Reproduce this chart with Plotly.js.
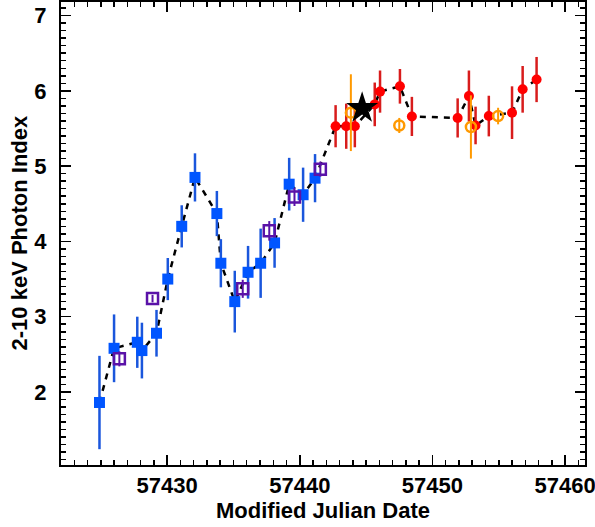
<!DOCTYPE html>
<html>
<head>
<meta charset="utf-8">
<script src="https://cdn.plot.ly/plotly-3.0.1.min.js"></script>
<style>html,body{margin:0;padding:0;background:#fff;}#chart{width:595px;height:527px;}</style>
</head>
<body>
<div id="chart"></div>
<script>
// Blue filled squares
const blueX = [57424.9, 57426.0, 57427.75, 57428.1, 57429.2, 57430.05, 57431.1, 57432.1, 57433.75, 57434.05, 57435.1, 57436.1, 57437.05, 57438.1, 57439.2, 57440.25, 57441.15];
const blueY = [1.86, 2.58, 2.66, 2.55, 2.78, 3.50, 4.20, 4.85, 4.37, 3.71, 3.20, 3.59, 3.71, 3.98, 4.76, 4.62, 4.84];
const blueErr = [0.62, 0.45, 0.34, 0.37, 0.31, 0.28, 0.28, 0.32, 0.30, 0.32, 0.41, 0.35, 0.46, 0.33, 0.35, 0.36, 0.32];

// Purple open squares
const purpleX = [57426.4, 57428.9, 57435.7, 57437.7, 57439.6, 57441.55];
const purpleY = [2.44, 3.24, 3.37, 4.14, 4.59, 4.96];
const purpleErr = [0.10, 0.05, 0.12, 0.13, 0.12, 0.10];

// Red filled circles
const redX = [57442.7, 57443.5, 57444.15, 57445.65, 57446.05, 57447.55, 57448.45, 57451.9, 57452.75, 57453.25, 57454.25, 57456.0, 57456.8, 57457.85];
const redY = [5.53, 5.53, 5.53, 5.82, 5.99, 6.06, 5.66, 5.64, 5.93, 5.54, 5.665, 5.71, 6.02, 6.15];
const redErr = [0.28, 0.30, 0.28, 0.29, 0.28, 0.23, 0.26, 0.26, 0.34, 0.25, 0.27, 0.35, 0.31, 0.30];

// Orange open circles
const orangeX = [57443.85, 57447.5, 57452.9, 57454.95];
const orangeY = [5.71, 5.54, 5.52, 5.665];
const orangeErr = [0.51, 0.10, 0.42, 0.11];

// Black star
const starX = [57444.7];
const starY = [5.77];

// Axis titles
const xTitle = 'Modified Julian Date';
const yTitle = '2-10 keV Photon Index';

// Dashed line through blue + red points, in time order
const linePts = blueX.map((x, i) => [x, blueY[i]]).concat(redX.map((x, i) => [x, redY[i]])).sort((a, b) => a[0] - b[0]);

const traces = [
  {x: linePts.map(p => p[0]), y: linePts.map(p => p[1]), mode: 'lines', type: 'scatter',
   line: {color: 'black', width: 2.5, dash: '6px,6px'}, hoverinfo: 'skip'},
  {x: blueX, y: blueY, mode: 'markers', type: 'scatter',
   marker: {symbol: 'square', size: 11, color: '#0055ff'},
   error_y: {type: 'data', array: blueErr, visible: true, color: '#1a56dc', thickness: 2.5, width: 0}},
  {x: purpleX, y: purpleY, mode: 'markers', type: 'scatter',
   marker: {symbol: 'square-open', size: 11, color: '#5a12a8', line: {width: 2.5, color: '#5a12a8'}},
   error_y: {type: 'data', array: purpleErr, visible: true, color: '#5a12a8', thickness: 2, width: 0}},
  {x: redX, y: redY, mode: 'markers', type: 'scatter',
   marker: {symbol: 'circle', size: 10, color: '#ff0000'},
   error_y: {type: 'data', array: redErr, visible: true, color: '#d81c1c', thickness: 2.5, width: 0}},
  {x: orangeX, y: orangeY, mode: 'markers', type: 'scatter',
   marker: {symbol: 'circle-open', size: 10, color: '#ff9900', line: {width: 2.5, color: '#ff9900'}},
   error_y: {type: 'data', array: orangeErr, visible: true, color: '#ff9900', thickness: 2, width: 0}},
  {x: starX, y: starY, mode: 'markers', type: 'scatter',
   marker: {symbol: 'star', size: 24, color: 'black'}}
];

const axisFont = {family: 'Liberation Sans, Arial, sans-serif', size: 22, weight: 'bold', color: 'black'};

const layout = {
  width: 595, height: 527,
  margin: {l: 61, r: 10, t: 2, b: 62},
  paper_bgcolor: 'white', plot_bgcolor: 'white',
  showlegend: false,
  font: axisFont,
  xaxis: {
    range: [57422, 57461.5], dtick: 10, tickformat: 'd',
    ticks: 'inside', ticklen: 10, tickwidth: 1.5, tickcolor: 'black',
    minor: {dtick: 1, ticks: 'inside', ticklen: 5, tickwidth: 1.5, tickcolor: 'black'},
    showline: true, linewidth: 2, linecolor: 'black', mirror: 'allticks',
    showgrid: false, zeroline: false, ticklabeloverflow: 'allow',
    tickfont: axisFont,
    title: {text: xTitle, font: axisFont, standoff: 4}
  },
  yaxis: {
    range: [1.03, 7.18], dtick: 1, tickformat: 'd',
    ticks: 'inside', ticklen: 10, tickwidth: 1.5, tickcolor: 'black',
    minor: {dtick: 0.1, ticks: 'inside', ticklen: 5, tickwidth: 1.5, tickcolor: 'black'},
    showline: true, linewidth: 2, linecolor: 'black', mirror: 'allticks',
    showgrid: false, zeroline: false,
    tickfont: axisFont, ticklabelstandoff: 8
  },
  annotations: [{
    text: yTitle, textangle: -90, showarrow: false,
    xref: 'paper', yref: 'paper', x: 0, y: 0.5,
    xanchor: 'center', yanchor: 'middle', xshift: -42,
    font: axisFont
  }]
};

Plotly.newPlot('chart', traces, layout, {displayModeBar: false, staticPlot: true});
</script>
</body>
</html>
